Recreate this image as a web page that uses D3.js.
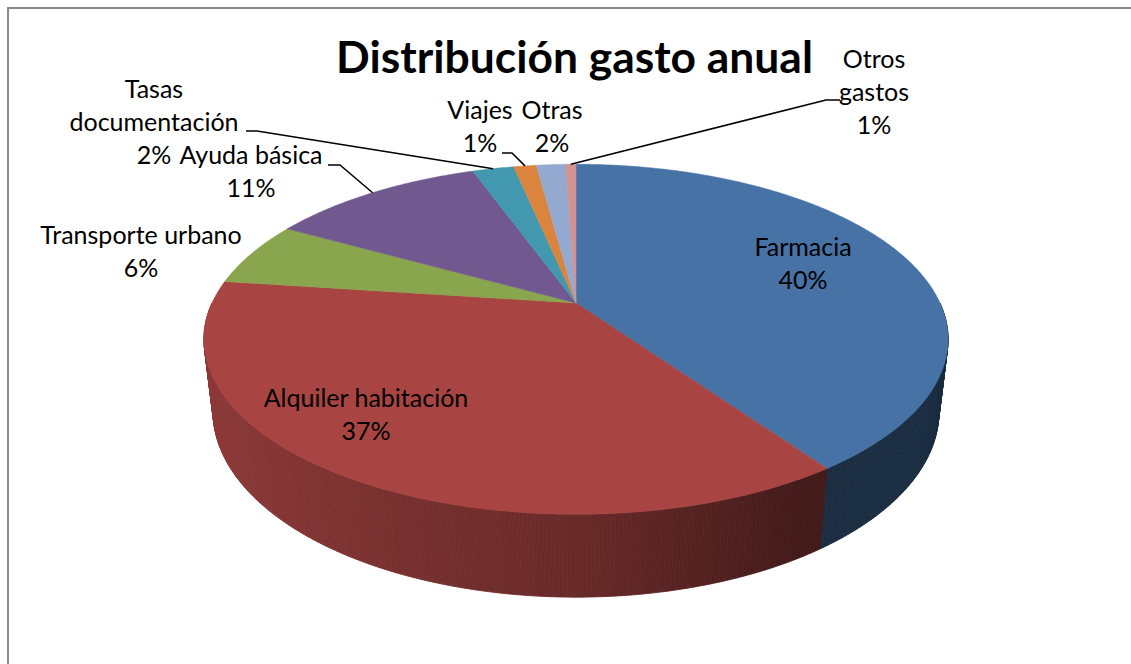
<!DOCTYPE html>
<html>
<head>
<meta charset="utf-8">
<script src="https://cdn.jsdelivr.net/npm/d3@7"></script>
<style>
  html, body { margin: 0; background: #fff; overflow: hidden; }
  svg { display: block; }
  text { font-family: Lato, "Open Sans", sans-serif; fill: #000; }
</style>
</head>
<body>
<svg id="chart"></svg>
<script>
// data (percent of yearly spending)
const categories = ['Farmacia', 'Alquiler habitación', 'Transporte urbano', 'Ayuda básica',
  'Tasas documentación', 'Viajes', 'Otras', 'Otros gastos'];
const values = [40.3, 36.8, 6.0, 11.4, 2.2, 1.2, 1.55, 0.55];
const colors = ['#4672A6', '#A84442', '#89A54E', '#71588F', '#4198AF', '#DB843D', '#93A9CF', '#D19392'];
const labelLines = [['Farmacia'], ['Alquiler habitación'], ['Transporte urbano'], ['Ayuda básica'],
  ['Tasas', 'documentación'], ['Viajes'], ['Otras'], ['Otros', 'gastos']];
const title = 'Distribución gasto anual';

const w = 1131;
const h = 664;

// label anchors: centre x, first baseline, and the label end of the leader line
const labelPos = [
  { x: 803, y: 256 },
  { x: 366, y: 407 },
  { x: 141, y: 244 },
  { x: 251, y: 164, leader: [[328, 165], [340, 165]] },
  { x: 154, y: 98, leader: [[246, 131], [257, 131]] },
  { x: 480, y: 119, leader: [[502, 153], [512, 153]] },
  { x: 552, y: 119 },
  { x: 874, y: 68, leader: [[840, 100], [826, 100]] }
];
const lineHeight = 33;

// 3d view of the pie
const view = {
  cx: 576,
  cy: 303,
  r: 364,
  depth: 82,
  tilt: 27.4 * Math.PI / 180,
  dist: 1559
};
const sa = Math.sin(view.tilt);
const ca = Math.cos(view.tilt);

function project(angle, y) {
  const x = view.r * Math.sin(angle);
  const z = -view.r * Math.cos(angle);
  const yc = y * ca - z * sa;
  const zc = y * sa + z * ca;
  const s = view.dist / (view.dist - zc);
  return [view.cx + x * s, view.cy - yc * s];
}

function steps(a0, a1) {
  const n = Math.max(1, Math.ceil((a1 - a0) / (0.5 * Math.PI / 180)));
  return d3.range(n + 1).map((i) => a0 + (a1 - a0) * i / n);
}

const svg = d3.select('#chart')
  .attr('width', w)
  .attr('height', h);

// chart frame, only its top and left edges fall inside the picture
svg.append('path')
  .attr('d', `M8,${h}V8H${w}`)
  .attr('fill', 'none')
  .attr('stroke', '#898989')
  .attr('stroke-width', 2);

const arcs = d3.pie().sort(null).value((d) => d)(values);

// side wall, front half only, darker towards the right
const shade = d3.scaleLinear()
  .domain([-1, -0.5, 0, 1])
  .range([0.38, 0.40, 0.62, 0.85]);

const quads = [];
arcs.forEach((a, i) => {
  const a0 = Math.max(a.startAngle, Math.PI / 2);
  const a1 = Math.min(a.endAngle, 3 * Math.PI / 2);
  if (a0 >= a1) return;
  const pts = steps(a0, a1);
  for (let k = 0; k < pts.length - 1; k++) {
    const mid = (pts[k] + pts[k + 1]) / 2;
    const base = d3.rgb(colors[i]);
    const f = shade(-Math.sin(mid));
    quads.push({
      mid: mid,
      color: d3.rgb(base.r * f, base.g * f, base.b * f).formatHex(),
      pts: [project(pts[k], 0), project(pts[k + 1], 0), project(pts[k + 1], -view.depth), project(pts[k], -view.depth)]
    });
  }
});
quads.sort((p, q) => Math.abs(q.mid - Math.PI) - Math.abs(p.mid - Math.PI));

svg.append('g')
  .attr('class', 'side')
  .selectAll('polygon')
  .data(quads)
  .enter()
  .append('polygon')
  .attr('points', (d) => d.pts.map((p) => p.join(',')).join(' '))
  .attr('fill', (d) => d.color)
  .attr('stroke', (d) => d.color)
  .attr('stroke-width', 0.8);

// top face
const topLine = d3.line();
svg.append('g')
  .attr('class', 'top')
  .selectAll('path')
  .data(arcs)
  .enter()
  .append('path')
  .attr('d', (d) => topLine([[view.cx, view.cy]].concat(steps(d.startAngle, d.endAngle).map((t) => project(t, 0)))) + 'Z')
  .attr('fill', (d, i) => colors[i])
  .attr('stroke', (d, i) => colors[i])
  .attr('stroke-width', 0.5);

// leader lines
svg.append('g')
  .attr('class', 'leaders')
  .selectAll('polyline')
  .data(arcs.filter((d, i) => labelPos[i].leader))
  .enter()
  .append('polyline')
  .attr('points', (d) => labelPos[d.index].leader
    .concat([project((d.startAngle + d.endAngle) / 2, 0)])
    .map((p) => p.join(',')).join(' '))
  .attr('fill', 'none')
  .attr('stroke', '#000')
  .attr('stroke-width', 1.5);

// labels
const labels = svg.append('g')
  .attr('class', 'labels')
  .selectAll('text')
  .data(arcs)
  .enter()
  .append('text')
  .attr('text-anchor', 'middle')
  .style('font-size', '25px');

labels.each(function (d, i) {
  const lines = labelLines[i].concat([`${Math.round(values[i])}%`]);
  d3.select(this)
    .selectAll('tspan')
    .data(lines)
    .enter()
    .append('tspan')
    .attr('x', labelPos[i].x)
    .attr('y', (t, k) => labelPos[i].y + k * lineHeight)
    .text((t) => t);
});

// title, sized to the width it has in the original
const titleText = svg.append('text')
  .attr('x', 574.5)
  .attr('y', 73)
  .attr('text-anchor', 'middle')
  .style('font-weight', 'bold')
  .style('font-size', '40px')
  .text(title);
const tw = titleText.node().getComputedTextLength();
titleText.style('font-size', `${40 * 477 / tw}px`);
</script>
</body>
</html>
